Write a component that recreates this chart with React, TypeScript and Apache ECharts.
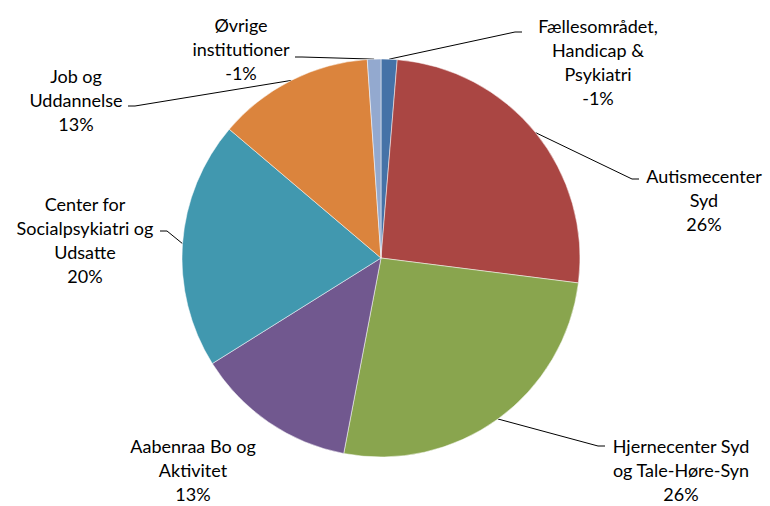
import React, { useEffect, useRef } from "react";
import * as echarts from "echarts";

// Categories (clockwise from 12 o'clock), with their line breaks as shown
const categories = [
  "Fællesområdet,\nHandicap &\nPsykiatri",
  "Autismecenter\nSyd",
  "Hjernecenter Syd\nog Tale-Høre-Syn",
  "Aabenraa Bo og\nAktivitet",
  "Center for\nSocialpsykiatri og\nUdsatte",
  "Job og\nUddannelse",
  "Øvrige\ninstitutioner",
];

// Shares in percent (negative ones are drawn by their size)
const shares = [-1.3, 25.7, 26.0, 13.1, 20.1, 12.7, -1.1];

const colors = ["#4572A7", "#AA4643", "#89A54E", "#71588F", "#4198AF", "#DB843D", "#93A9CF"];

// Label placement: centre of text block, and leader-line end next to the text
const labelSpots: { x: number; y: number; lx?: number; ly?: number }[] = [
  { x: 598, y: 62, lx: 522, ly: 32 },
  { x: 704, y: 200, lx: 639, ly: 179 },
  { x: 681, y: 470, lx: 605, ly: 446 },
  { x: 193, y: 470 },
  { x: 85, y: 240, lx: 160, ly: 231 },
  { x: 76, y: 100, lx: 128, ly: 106 },
  { x: 241, y: 49, lx: 295, ly: 57 },
];

export default function App() {
  const ref = useRef<HTMLDivElement>(null);
  useEffect(() => {
    if (!ref.current) return;
    const chart = echarts.init(ref.current, null, { renderer: "svg" });
    const data = categories.map((name, i) => ({
      name,
      value: Math.abs(shares[i]),
      share: shares[i],
      itemStyle: { color: colors[i] },
      labelLine: { show: labelSpots[i].lx != null },
    }));
    chart.setOption({
      animation: false,
      backgroundColor: "#ffffff",
      series: [
        {
          type: "pie",
          center: [381, 258],
          radius: 199,
          startAngle: 90,
          clockwise: true,
          avoidLabelOverlap: false,
          data,
          itemStyle: { borderColor: "#ffffff", borderWidth: 0.5 },
          label: {
            show: true,
            position: "outside",
            color: "#000000",
            fontFamily: "Lato",
            fontSize: 18,
            lineHeight: 24,
            align: "center",
            formatter: (p: any) => `${p.name}\n${Math.round(p.data.share)}%`,
          },
          labelLine: {
            show: true,
            lineStyle: { color: "#000000", width: 1 },
          },
          labelLayout: (p: any) => {
            const s = labelSpots[p.dataIndex];
            const out: any = { x: s.x, y: s.y, align: "center", verticalAlign: "middle" };
            if (s.lx != null && p.labelLinePoints) {
              const a = p.labelLinePoints[0];
              const dir = a[0] < s.lx ? -1 : 1;
              out.labelLinePoints = [
                [a[0], a[1]],
                [s.lx + dir * 7, s.ly],
                [s.lx, s.ly],
              ];
            }
            return out;
          },
        },
      ],
    });
    return () => chart.dispose();
  }, []);
  return (
    <div
      ref={ref}
      style={{ position: "absolute", left: 0, top: 0, width: 770, height: 506, background: "#fff" }}
    />
  );
}
